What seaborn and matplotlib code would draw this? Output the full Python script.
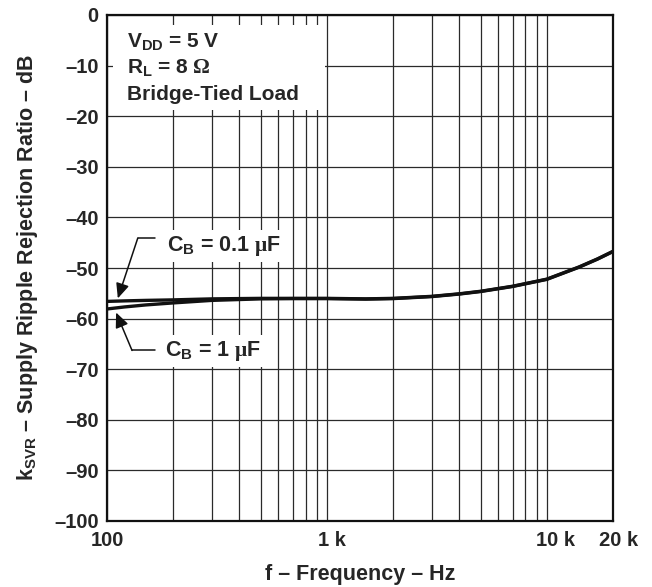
import numpy as np
import pandas as pd
import matplotlib
matplotlib.use("Agg")
import matplotlib.pyplot as plt
import matplotlib.transforms as mtransforms
from matplotlib.patches import Rectangle
from matplotlib.ticker import LogLocator, NullFormatter
import seaborn as sns

# ---- data ----
freq_hz = [100, 120, 150, 200, 300, 500, 700, 1000, 1500, 2000, 3000, 4000, 5000, 7000, 10000, 14000, 17000, 20000]
ksvr_cb_01uF = [-56.6, -56.5, -56.4, -56.3, -56.1, -56.0, -56.0, -56.0, -56.1, -56.0, -55.6, -55.1, -54.6, -53.6, -52.2, -49.8, -48.2, -46.7]
ksvr_cb_1uF = [-58.1, -57.7, -57.3, -56.9, -56.4, -56.1, -56.05, -56.05, -56.15, -56.05, -55.65, -55.15, -54.65, -53.65, -52.25, -49.85, -48.25, -46.75]
series_names = ["CB = 0.1 uF", "CB = 1 uF"]

x_ticks = [100, 1000, 10000, 20000]
x_ticklabels = ["100", "1 k", "10 k", "20 k"]
y_ticks = list(range(-100, 1, 10))
y_ticklabels = ["0" if v == 0 else "\u2013" + str(-v) for v in y_ticks]

df = pd.DataFrame({
    "f": freq_hz * 2,
    "k": ksvr_cb_01uF + ksvr_cb_1uF,
    "series": [series_names[0]] * len(freq_hz) + [series_names[1]] * len(freq_hz),
})

sns.set_style("white")
plt.rcParams["font.family"] = ["Liberation Sans", "DejaVu Sans"]
plt.rcParams["font.weight"] = "bold"
plt.rcParams["mathtext.fontset"] = "custom"
plt.rcParams["mathtext.bf"] = "Liberation Sans:bold"
plt.rcParams["mathtext.rm"] = "Liberation Serif"
plt.rcParams["mathtext.it"] = "Liberation Sans:italic"

W, H = 652, 587
fig = plt.figure(figsize=(W / 100, H / 100), dpi=100)
ax = fig.add_axes([107 / W, 1 - 521 / H, 506 / W, 506 / H])

sns.lineplot(data=df, x="f", y="k", hue="series", palette=["#111111", "#111111"],
             linewidth=2.4, legend=False, ax=ax, zorder=3)

ax.set_xscale("log")
ax.set_xlim(100, 20000)
ax.set_ylim(-100, 0)

ax.set_xticks(x_ticks)
ax.set_xticklabels(x_ticklabels)
ax.xaxis.set_minor_locator(LogLocator(base=10, subs=range(2, 10)))
ax.xaxis.set_minor_formatter(NullFormatter())
ax.set_yticks(y_ticks)
ax.set_yticklabels(y_ticklabels)

ax.set_axisbelow(True)
ax.grid(which="major", axis="both", color="#2a2a2a", linewidth=0.9)
ax.grid(which="minor", axis="x", color="#2a2a2a", linewidth=0.9)

ax.tick_params(axis="both", which="both", length=0, labelsize=14.5)
ax.tick_params(axis="x", pad=7)
ax.tick_params(axis="y", pad=6)
for lab in ax.get_xticklabels() + ax.get_yticklabels():
    lab.set_fontweight("bold")

# shift the " k" labels so the number sits on its grid line
shifts = {"1 k": 5, "10 k": 9, "20 k": 6}
for lab in ax.get_xticklabels():
    dx = shifts.get(lab.get_text(), 0)
    if dx:
        lab.set_transform(lab.get_transform() + mtransforms.ScaledTranslation(dx / 100, 0, fig.dpi_scale_trans))

for sp in ax.spines.values():
    sp.set_linewidth(1.6)
    sp.set_color("#111111")

ax.set_xlabel("f \u2013 Frequency \u2013 Hz", fontsize=15.5, fontweight="bold", labelpad=10)
ax.set_ylabel(r"$\mathbf{k_{SVR}}$ " + "\u2013 Supply Ripple Rejection Ratio \u2013 dB",
              fontsize=15.5, fontweight="bold", labelpad=10)

# conditions box
ax.add_patch(Rectangle((6 / 506, 1 - 95 / 506), 212 / 506, 85 / 506, transform=ax.transAxes,
                       facecolor="white", edgecolor="none", zorder=1.5))
tx = 20 / 506
ax.text(tx, 1 - 33 / 506, r"V$_\mathbf{DD}$ = 5 V", transform=ax.transAxes, fontsize=15,
        fontweight="bold", va="baseline", ha="left", zorder=4)
ax.text(tx, 1 - 59 / 506, r"R$_\mathbf{L}$ = 8 $\mathrm{\Omega}$", transform=ax.transAxes, fontsize=15,
        fontweight="bold", va="baseline", ha="left", zorder=4)
ax.text(tx, 1 - 85 / 506, "Bridge-Tied Load", transform=ax.transAxes, fontsize=15,
        fontweight="bold", va="baseline", ha="left", zorder=4)

# annotations
bbox = dict(facecolor="white", edgecolor="none", pad=3)
ax.text(187, -46.6, r"C$_\mathbf{B}$ = 0.1 $\mathrm{\mu}$F", fontsize=15.5, fontweight="bold",
        va="baseline", ha="left", bbox=bbox, zorder=4)
ax.text(184, -67.4, r"C$_\mathbf{B}$ = 1 $\mathrm{\mu}$F", fontsize=15.5, fontweight="bold",
        va="baseline", ha="left", bbox=bbox, zorder=4)

arrow = dict(arrowstyle="-|>,head_length=0.9,head_width=0.4", color="#111111", lw=1.1,
             shrinkA=0, shrinkB=0)
ax.plot([138, 166], [-44.1, -44.1], color="#111111", lw=1.1, zorder=4)
ax.annotate("", xy=(112, -56.0), xytext=(138, -44.1), arrowprops=arrow, zorder=4)
ax.plot([130, 166], [-66.3, -66.3], color="#111111", lw=1.1, zorder=4)
ax.annotate("", xy=(110, -58.8), xytext=(130, -66.3), arrowprops=arrow, zorder=4)

fig.savefig("out.png", dpi=100)
